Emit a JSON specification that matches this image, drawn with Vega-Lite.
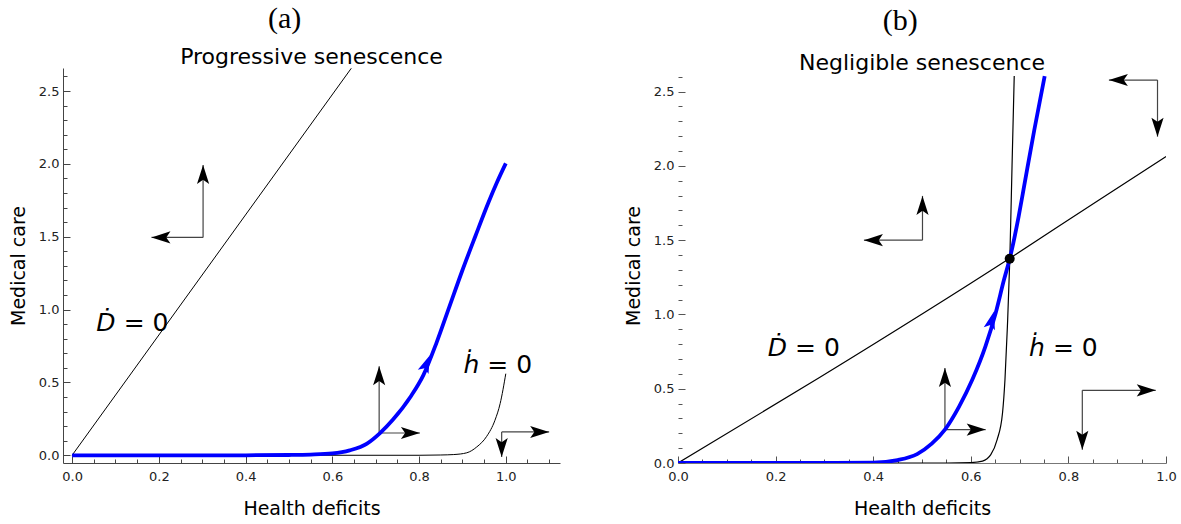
{
  "$schema": "https://vega.github.io/schema/vega-lite/v6.json",
  "autosize": {"type": "pad"},
  "padding": {"left": 9, "top": 4, "right": 0, "bottom": 0},
  "spacing": 64,
  "config": {
    "view": {"stroke": null},
    "axis": {
      "grid": false, "labelFont": "DejaVu Sans", "labelFontSize": 13, "labelColor": "#222",
      "titleFont": "DejaVu Sans", "titleFontSize": 19, "titleFontWeight": "normal", "titleColor": "#000",
      "labelOverlap": false, "labelFlush": false, "tickWidth": 1
    },
    "title": {"fontWeight": "normal", "color": "#000"}
  },
  "datasets": {
    "curves_a": [
      {"curve": "Ddot", "x": 0, "y": 0}, {"curve": "Ddot", "x": 0.6437, "y": 2.656},
      {"curve": "hdot", "x": 0, "y": 0}, {"curve": "hdot", "x": 0.5, "y": 0}, {"curve": "hdot", "x": 0.8, "y": 0},
      {"curve": "hdot", "x": 0.85, "y": 0.002}, {"curve": "hdot", "x": 0.88, "y": 0.005}, {"curve": "hdot", "x": 0.91, "y": 0.017},
      {"curve": "hdot", "x": 0.933, "y": 0.057}, {"curve": "hdot", "x": 0.956, "y": 0.13}, {"curve": "hdot", "x": 0.975, "y": 0.24},
      {"curve": "hdot", "x": 0.987, "y": 0.355}, {"curve": "hdot", "x": 1.0, "y": 0.56},
      {"curve": "path", "x": 0, "y": 0}, {"curve": "path", "x": 0.2, "y": 0}, {"curve": "path", "x": 0.4, "y": 0},
      {"curve": "path", "x": 0.5, "y": 0.002}, {"curve": "path", "x": 0.55, "y": 0.005}, {"curve": "path", "x": 0.6, "y": 0.013},
      {"curve": "path", "x": 0.64, "y": 0.034}, {"curve": "path", "x": 0.68, "y": 0.08}, {"curve": "path", "x": 0.71, "y": 0.152},
      {"curve": "path", "x": 0.74, "y": 0.245}, {"curve": "path", "x": 0.78, "y": 0.4}, {"curve": "path", "x": 0.81, "y": 0.55},
      {"curve": "path", "x": 0.84, "y": 0.77}, {"curve": "path", "x": 0.87, "y": 1.02}, {"curve": "path", "x": 0.9, "y": 1.27},
      {"curve": "path", "x": 0.93, "y": 1.505}, {"curve": "path", "x": 0.96, "y": 1.735}, {"curve": "path", "x": 0.98, "y": 1.875},
      {"curve": "path", "x": 1.0, "y": 2.003}
    ],
    "arrows_a": [
      {"x": 0.302, "y": 1.495, "x2": 0.302, "y2": 1.992, "heading": 0},
      {"x": 0.302, "y": 1.495, "x2": 0.183, "y2": 1.495, "heading": 270},
      {"x": 0.708, "y": 0.153, "x2": 0.708, "y2": 0.611, "heading": 0},
      {"x": 0.708, "y": 0.153, "x2": 0.802, "y2": 0.153, "heading": 90},
      {"x": 0.9905, "y": 0.16, "x2": 0.9905, "y2": -0.012, "heading": 180},
      {"x": 0.9905, "y": 0.16, "x2": 1.1, "y2": 0.16, "heading": 90}
    ],
    "flow_a": [{"x": 0.825, "y": 0.687, "heading": 22}],
    "labels_a": [
      {"x": 0.1096, "y": 0.854, "sym": "Ḋ", "rest": "= 0"},
      {"x": 0.948, "y": 0.568, "sym": "ḣ", "rest": "= 0"}
    ],
    "curves_b": [
      {"curve": "Ddot", "x": 0, "y": 0}, {"curve": "Ddot", "x": 0.29, "y": 0.575}, {"curve": "Ddot", "x": 0.68, "y": 1.378},
      {"curve": "Ddot", "x": 0.8627, "y": 1.771}, {"curve": "Ddot", "x": 1.0, "y": 2.063},
      {"curve": "hdot", "x": 0, "y": 0}, {"curve": "hdot", "x": 0.3, "y": 0}, {"curve": "hdot", "x": 0.55, "y": 0},
      {"curve": "hdot", "x": 0.6, "y": 0.003}, {"curve": "hdot", "x": 0.624, "y": 0.013}, {"curve": "hdot", "x": 0.641, "y": 0.056},
      {"curve": "hdot", "x": 0.654, "y": 0.157}, {"curve": "hdot", "x": 0.665, "y": 0.337}, {"curve": "hdot", "x": 0.67, "y": 0.561},
      {"curve": "hdot", "x": 0.675, "y": 0.919}, {"curve": "hdot", "x": 0.68, "y": 1.379}, {"curve": "hdot", "x": 0.6845, "y": 2.0},
      {"curve": "hdot", "x": 0.689, "y": 2.605},
      {"curve": "path", "x": 0, "y": 0}, {"curve": "path", "x": 0.3, "y": 0}, {"curve": "path", "x": 0.4, "y": 0.003},
      {"curve": "path", "x": 0.45, "y": 0.02}, {"curve": "path", "x": 0.49, "y": 0.06}, {"curve": "path", "x": 0.52, "y": 0.13},
      {"curve": "path", "x": 0.547, "y": 0.225}, {"curve": "path", "x": 0.576, "y": 0.38}, {"curve": "path", "x": 0.603, "y": 0.56},
      {"curve": "path", "x": 0.63, "y": 0.785}, {"curve": "path", "x": 0.651, "y": 1.01}, {"curve": "path", "x": 0.668, "y": 1.233},
      {"curve": "path", "x": 0.68, "y": 1.378}, {"curve": "path", "x": 0.698, "y": 1.659}, {"curve": "path", "x": 0.708, "y": 1.84},
      {"curve": "path", "x": 0.73, "y": 2.24}, {"curve": "path", "x": 0.7514, "y": 2.605}
    ],
    "arrows_b": [
      {"x": 0.501, "y": 1.5, "x2": 0.501, "y2": 1.798, "heading": 0},
      {"x": 0.501, "y": 1.5, "x2": 0.381, "y2": 1.5, "heading": 270},
      {"x": 0.9826, "y": 2.578, "x2": 0.883, "y2": 2.578, "heading": 270},
      {"x": 0.9826, "y": 2.578, "x2": 0.9826, "y2": 2.197, "heading": 180},
      {"x": 0.547, "y": 0.225, "x2": 0.547, "y2": 0.64, "heading": 0},
      {"x": 0.547, "y": 0.225, "x2": 0.6305, "y2": 0.225, "heading": 90},
      {"x": 0.8285, "y": 0.489, "x2": 0.979, "y2": 0.489, "heading": 90},
      {"x": 0.8285, "y": 0.489, "x2": 0.8285, "y2": 0.09, "heading": 180}
    ],
    "flow_b": [{"x": 0.6475, "y": 1.02, "heading": 15}],
    "equilibrium_b": [{"x": 0.6797, "y": 1.3746}],
    "labels_b": [
      {"x": 0.2316, "y": 0.7176, "sym": "Ḋ", "rest": "= 0"},
      {"x": 0.76, "y": 0.7176, "sym": "ḣ", "rest": "= 0"}
    ]
  },
  "hconcat": [
    {
      "title": {"text": "(a)", "font": "Liberation Serif", "fontSize": 30, "anchor": "middle", "frame": "bounds", "offset": 12},
      "vconcat": [
        {
          "title": {"text": "Progressive senescence", "font": "DejaVu Sans", "fontSize": 22, "anchor": "middle", "frame": "group", "offset": -1},
          "width": 497,
          "height": 395,
          "encoding": {
            "x": {"field": "x", "type": "quantitative",
              "scale": {"domain": [-0.021, 1.125], "nice": false, "zero": false},
              "axis": {"title": "Health deficits", "values": [0,0.05,0.1,0.15,0.2,0.25,0.3,0.35,0.4,0.45,0.5,0.55,0.6,0.65,0.7,0.75,0.8,0.85,0.9,0.95,1,1.05,1.1],
                "format": ".1f", "labelExpr": "abs(datum.value*5-round(datum.value*5))<0.001 ? datum.label : ''",
                "tickSize": {"condition": {"test": "abs(datum.value*5-round(datum.value*5))<0.001", "value": -7}, "value": -4},
                "labelPadding": 14, "titlePadding": 13, "domainColor": "#444", "tickColor": "#444"}},
            "y": {"field": "y", "type": "quantitative",
              "scale": {"domain": [-0.053, 2.658], "nice": false, "zero": false},
              "axis": {"title": "Medical care", "values": [0,0.1,0.2,0.3,0.4,0.5,0.6,0.7,0.8,0.9,1,1.1,1.2,1.3,1.4,1.5,1.6,1.7,1.8,1.9,2,2.1,2.2,2.3,2.4,2.5,2.6],
                "format": ".1f", "labelExpr": "abs(datum.value*2-round(datum.value*2))<0.001 ? datum.label : ''",
                "tickSize": {"condition": {"test": "abs(datum.value*2-round(datum.value*2))<0.001", "value": -7}, "value": -4},
                "labelPadding": 11, "titlePadding": 10, "domainColor": "#444", "tickColor": "#444"}}
          },
          "layer": [
            {"mark": {"type": "rule", "strokeDash": [5, 3], "color": "#333", "strokeWidth": 1},
             "encoding": {"x": {"datum": 1}, "y": {"datum": 0}, "y2": {"datum": 2.658}}},
            {"data": {"name": "curves_a"}, "transform": [{"filter": "datum.curve === 'Ddot'"}],
             "mark": {"type": "line", "color": "#000", "strokeWidth": 1, "clip": true}},
            {"data": {"name": "curves_a"}, "transform": [{"filter": "datum.curve === 'hdot'"}],
             "mark": {"type": "line", "color": "#000", "strokeWidth": 1, "clip": true, "interpolate": "monotone"}},
            {"data": {"name": "arrows_a"}, "mark": {"type": "rule", "color": "#444", "strokeWidth": 1.2},
             "encoding": {"x2": {"field": "x2"}, "y2": {"field": "y2"}}},
            {"data": {"name": "arrows_a"},
             "mark": {"type": "point", "shape": "M0,0 L0.32,1 L0,0.78 L-0.32,1 Z", "filled": true, "color": "#000", "opacity": 1, "size": 1444, "strokeWidth": 0},
             "encoding": {"x": {"field": "x2", "type": "quantitative"}, "y": {"field": "y2", "type": "quantitative"}, "angle": {"field": "heading", "type": "quantitative", "scale": null}}},
            {"data": {"name": "curves_a"}, "transform": [{"filter": "datum.curve === 'path'"}],
             "mark": {"type": "line", "color": "#0000ff", "strokeWidth": 3.8, "clip": true, "interpolate": "monotone"}},
            {"data": {"name": "flow_a"},
             "mark": {"type": "point", "shape": "M0,0 L0.32,1 L0,0.78 L-0.32,1 Z", "filled": true, "color": "#0000ff", "opacity": 1, "size": 1296, "strokeWidth": 0},
             "encoding": {"angle": {"field": "heading", "type": "quantitative", "scale": null}}},
            {"data": {"name": "labels_a"},
             "mark": {"type": "text", "font": "DejaVu Sans", "fontSize": 25, "fontStyle": "italic", "align": "right", "baseline": "alphabetic", "dx": -4, "color": "#000"},
             "encoding": {"text": {"field": "sym"}}},
            {"data": {"name": "labels_a"},
             "mark": {"type": "text", "font": "DejaVu Sans", "fontSize": 25, "align": "left", "baseline": "alphabetic", "dx": 4, "color": "#000"},
             "encoding": {"text": {"field": "rest"}}}
          ]
        }
      ]
    },
    {
      "title": {"text": "(b)", "font": "Liberation Serif", "fontSize": 30, "anchor": "middle", "frame": "bounds", "offset": 16},
      "vconcat": [
        {
          "title": {"text": "Negligible senescence", "font": "DejaVu Sans", "fontSize": 22, "anchor": "middle", "frame": "group", "offset": -6.6},
          "width": 488,
          "height": 395,
          "encoding": {
            "x": {"field": "x", "type": "quantitative",
              "scale": {"domain": [0, 1], "nice": false, "zero": false},
              "axis": {"title": "Health deficits", "values": [0,0.05,0.1,0.15,0.2,0.25,0.3,0.35,0.4,0.45,0.5,0.55,0.6,0.65,0.7,0.75,0.8,0.85,0.9,0.95,1],
                "format": ".1f", "labelExpr": "abs(datum.value*5-round(datum.value*5))<0.001 ? datum.label : ''",
                "tickSize": {"condition": {"test": "abs(datum.value*5-round(datum.value*5))<0.001", "value": -7}, "value": -4},
                "labelPadding": 14, "titlePadding": 13, "domainColor": "#777", "tickColor": "#555"}},
            "y": {"field": "y", "type": "quantitative",
              "scale": {"domain": [0, 2.659], "nice": false, "zero": false},
              "axis": {"title": "Medical care", "domain": false, "values": [0,0.1,0.2,0.3,0.4,0.5,0.6,0.7,0.8,0.9,1,1.1,1.2,1.3,1.4,1.5,1.6,1.7,1.8,1.9,2,2.1,2.2,2.3,2.4,2.5,2.6],
                "format": ".1f", "labelExpr": "abs(datum.value*2-round(datum.value*2))<0.001 ? datum.label : ''",
                "tickSize": {"condition": {"test": "abs(datum.value*2-round(datum.value*2))<0.001", "value": -7}, "value": -4},
                "labelPadding": 11, "titlePadding": 10, "tickColor": "#555"}}
          },
          "layer": [
            {"mark": {"type": "rule", "color": "#555", "strokeWidth": 1},
             "encoding": {"x": {"datum": 0}, "y": {"datum": 0}, "y2": {"datum": 2.605}}},
            {"mark": {"type": "rule", "strokeDash": [5, 3], "color": "#666", "strokeWidth": 1},
             "encoding": {"x": {"datum": 1}, "y": {"datum": 0}, "y2": {"datum": 2.605}}},
            {"data": {"name": "curves_b"}, "transform": [{"filter": "datum.curve === 'Ddot'"}],
             "mark": {"type": "line", "color": "#000", "strokeWidth": 1.2, "clip": true, "interpolate": "monotone"}},
            {"data": {"name": "curves_b"}, "transform": [{"filter": "datum.curve === 'hdot'"}],
             "mark": {"type": "line", "color": "#000", "strokeWidth": 1.2, "clip": true, "interpolate": "monotone"}},
            {"data": {"name": "arrows_b"}, "mark": {"type": "rule", "color": "#444", "strokeWidth": 1.2},
             "encoding": {"x2": {"field": "x2"}, "y2": {"field": "y2"}}},
            {"data": {"name": "arrows_b"},
             "mark": {"type": "point", "shape": "M0,0 L0.32,1 L0,0.78 L-0.32,1 Z", "filled": true, "color": "#000", "opacity": 1, "size": 1444, "strokeWidth": 0},
             "encoding": {"x": {"field": "x2", "type": "quantitative"}, "y": {"field": "y2", "type": "quantitative"}, "angle": {"field": "heading", "type": "quantitative", "scale": null}}},
            {"data": {"name": "curves_b"}, "transform": [{"filter": "datum.curve === 'path'"}],
             "mark": {"type": "line", "color": "#0000ff", "strokeWidth": 3.8, "clip": true, "interpolate": "monotone"}},
            {"data": {"name": "flow_b"},
             "mark": {"type": "point", "shape": "M0,0 L0.32,1 L0,0.78 L-0.32,1 Z", "filled": true, "color": "#0000ff", "opacity": 1, "size": 1296, "strokeWidth": 0},
             "encoding": {"angle": {"field": "heading", "type": "quantitative", "scale": null}}},
            {"data": {"name": "equilibrium_b"},
             "mark": {"type": "point", "shape": "circle", "filled": true, "color": "#000", "opacity": 1, "size": 100}},
            {"data": {"name": "labels_b"},
             "mark": {"type": "text", "font": "DejaVu Sans", "fontSize": 25, "fontStyle": "italic", "align": "right", "baseline": "alphabetic", "dx": -4, "color": "#000"},
             "encoding": {"text": {"field": "sym"}}},
            {"data": {"name": "labels_b"},
             "mark": {"type": "text", "font": "DejaVu Sans", "fontSize": 25, "align": "left", "baseline": "alphabetic", "dx": 4, "color": "#000"},
             "encoding": {"text": {"field": "rest"}}}
          ]
        }
      ]
    }
  ]
}
